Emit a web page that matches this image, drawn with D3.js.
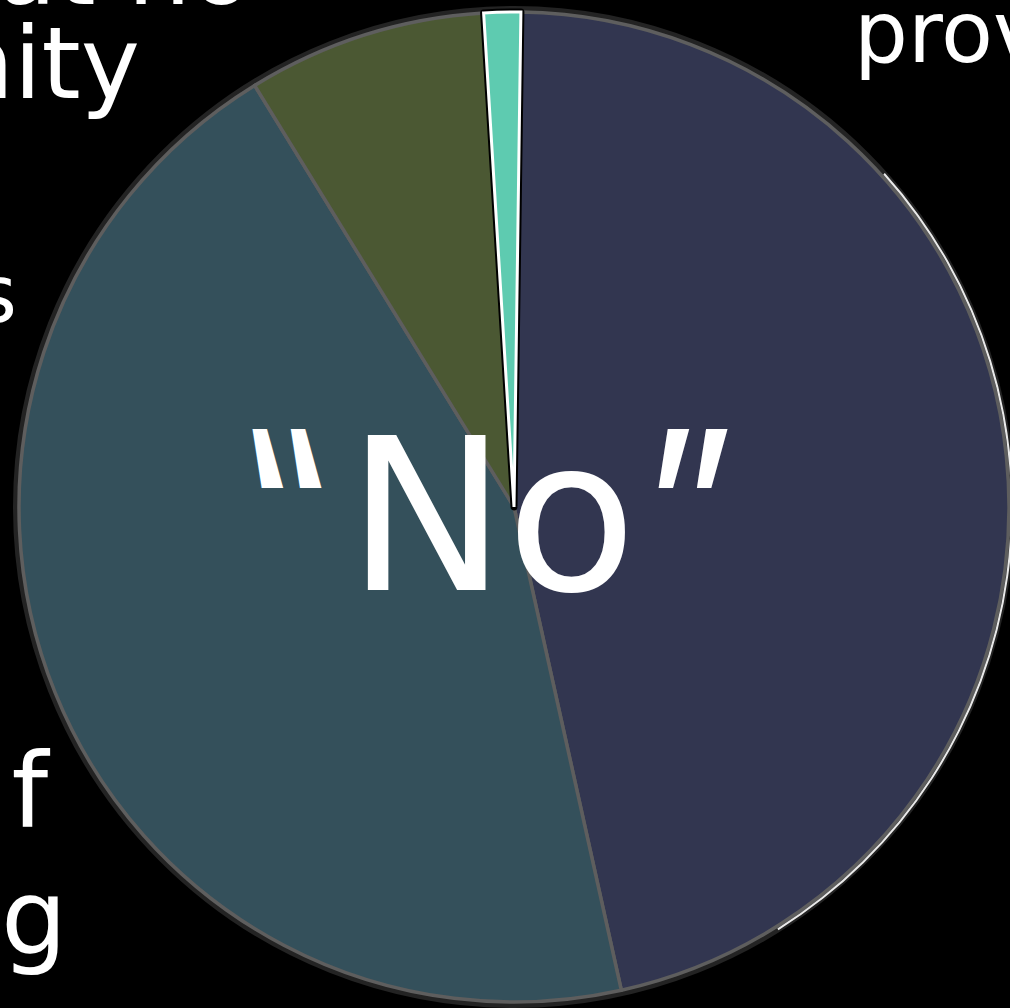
<!DOCTYPE html>
<html>
<head>
<meta charset="utf-8">
<script src="https://cdn.jsdelivr.net/npm/d3@7"></script>
<style>
  html, body { margin: 0; padding: 0; background: #000; overflow: hidden; }
  text { font-family: "DejaVu Sans", sans-serif; fill: #fff; }
</style>
</head>
<body>
<div id="chart"></div>
<script>
// slice order clockwise from the top
const categories = ['navy', 'teal', 'olive', 'mint'];
const shares = [46.3, 44.7, 7.8, 1.2];
const sliceColors = ['#323650', '#34505b', '#4b5833', '#5ecbb0'];

// fragments of the labels that fall outside the crop
const labelTexts = ['but no', 'nity', 's', 'f', 'g', 'prov'];
const openQuote = '\u201C';
const centerParts = ['No', '\u201D'];

const w = 1010, h = 1008;
const cx = 514, cy = 507, r = 495;

const svg = d3.select('#chart').append('svg')
  .attr('width', w).attr('height', h)
  .style('display', 'block');

svg.append('rect').attr('width', w).attr('height', h).attr('fill', '#000');

const g = svg.append('g').attr('transform', `translate(${cx},${cy})`);

const start = 0.8 * Math.PI / 180;
const pie = d3.pie().sort(null).startAngle(start).endAngle(start + 2 * Math.PI);
const arcs = pie(shares).map((d, i) => Object.assign(d, {cat: categories[i]}));

const arc = d3.arc().innerRadius(0).outerRadius(r);

// dark outer ring
g.append('circle').attr('r', r + 3).attr('fill', 'none')
  .attr('stroke', '#232323').attr('stroke-width', 6);

g.selectAll('.slice')
  .data(arcs.filter(d => d.cat !== 'mint'))
  .enter().append('path')
  .attr('class', 'slice')
  .attr('d', arc)
  .attr('fill', d => sliceColors[categories.indexOf(d.cat)])
  .attr('stroke', '#5e5e5e')
  .attr('stroke-width', 3.5)
  .attr('stroke-linejoin', 'round');

// white highlight along the right edge of the big slice
const hl = d3.arc().innerRadius(r + 2).outerRadius(r + 4)
  .startAngle(48 * Math.PI / 180).endAngle(148 * Math.PI / 180);
g.append('path').attr('d', hl).attr('fill', '#fff').attr('opacity', 0.9);

// small slice: black outline then white outline
const mint = arcs.find(d => d.cat === 'mint');
g.append('path').attr('d', arc(mint))
  .attr('fill', 'none').attr('stroke', '#000').attr('stroke-width', 7)
  .attr('stroke-linejoin', 'round');
g.append('path').attr('d', arc(mint))
  .attr('fill', sliceColors[3]).attr('stroke', '#fff').attr('stroke-width', 3)
  .attr('stroke-linejoin', 'miter');

// centre word; opening quote is mirrored so it leans the other way
svg.append('text')
  .attr('transform', 'translate(338,584) scale(-1,1)')
  .style('font-family', 'Inter, sans-serif')
  .style('font-size', '213px')
  .text(openQuote);

const partX = [347, 642];
const ct = svg.append('text')
  .attr('y', 590)
  .style('font-size', '213px');
ct.selectAll('tspan')
  .data(centerParts)
  .enter().append('tspan')
  .attr('x', (d, i) => partX[i])
  .attr('dy', (d, i) => i === 1 ? -6 : 0)
  .style('font-family', (d, i) => i === 0 ? '"DejaVu Sans", sans-serif' : 'Inter, sans-serif')
  .text(d => d);

// cut-off label pieces
const labelPos = [
  {x: 252, y: 4, size: 100, anchor: 'end'},
  {x: 140, y: 98, size: 100, anchor: 'end'},
  {x: 17, y: 322, size: 80, anchor: 'end'},
  {x: 48, y: 827, size: 104, anchor: 'end'},
  {x: 67, y: 953, size: 104, anchor: 'end'},
  {x: 854, y: 62, size: 85, anchor: 'start'}
];

svg.selectAll('.lbl')
  .data(labelTexts)
  .enter().append('text')
  .attr('class', 'lbl')
  .attr('x', (d, i) => labelPos[i].x)
  .attr('y', (d, i) => labelPos[i].y)
  .attr('text-anchor', (d, i) => labelPos[i].anchor)
  .style('font-size', (d, i) => labelPos[i].size + 'px')
  .text(d => d);
</script>
</body>
</html>
